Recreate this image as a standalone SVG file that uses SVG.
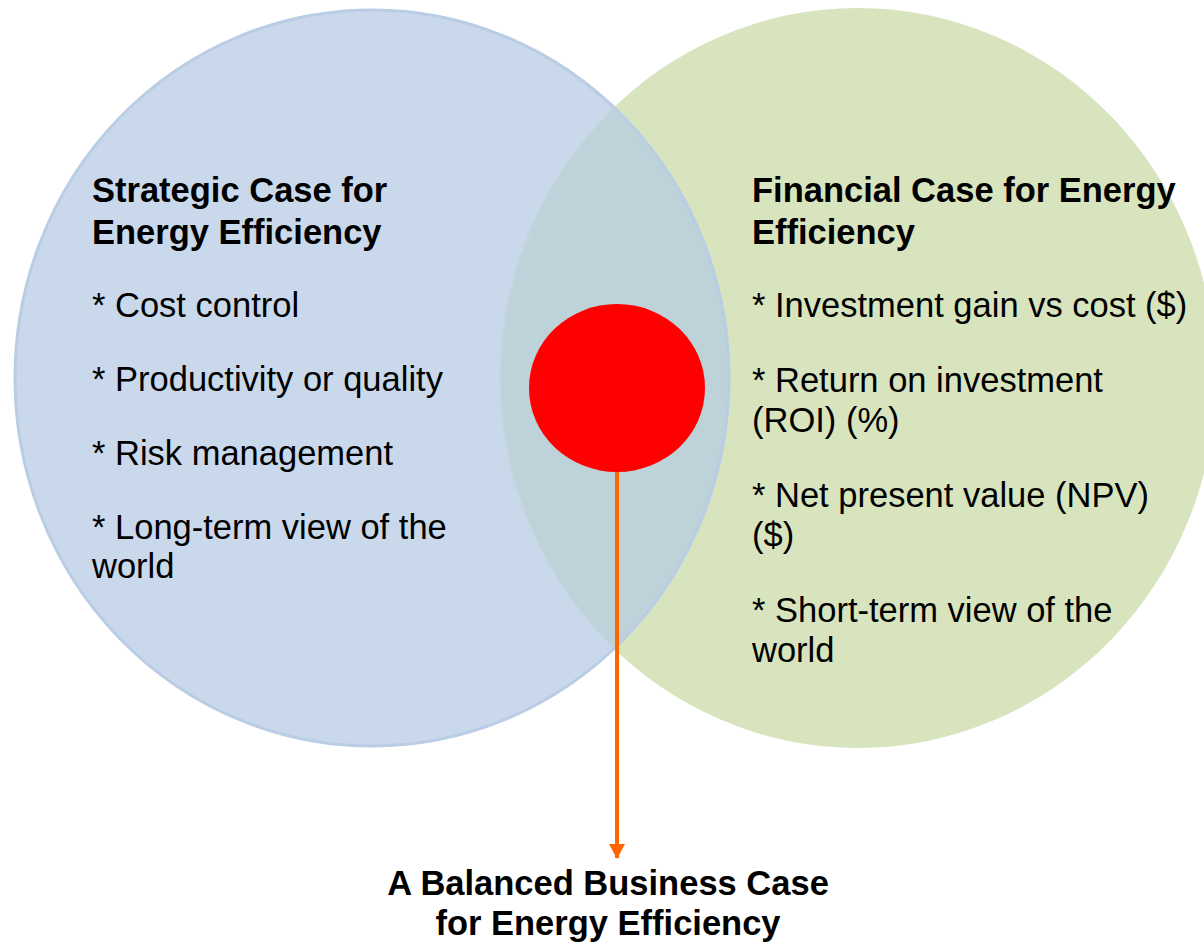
<svg xmlns="http://www.w3.org/2000/svg" width="1204" height="943" viewBox="0 0 1204 943">
  <style>
    .title { font-family: "Liberation Sans", Arial, sans-serif; font-size: 34.5px; font-weight: bold; fill: #000; }
    .item { font-family: "Liberation Sans", Arial, sans-serif; font-size: 34.5px; fill: #000; }
    .result { font-family: "Liberation Sans", Arial, sans-serif; font-size: 34.5px; font-weight: bold; fill: #000; text-anchor: middle; }
  </style>
  <defs>
    <clipPath id="strategicClip">
      <ellipse cx="372" cy="378" rx="357" ry="368"/>
    </clipPath>
    <marker id="arrowHead" viewBox="0 0 15 16" refX="14" refY="8" markerWidth="15" markerHeight="16" markerUnits="userSpaceOnUse" orient="auto">
      <polygon points="0,0 15,8 0,16" fill="#ff6600"/>
    </marker>
  </defs>
  <rect width="1204" height="943" fill="#ffffff"/>

  <!-- Financial case circle -->
  <g id="financial-case">
    <ellipse cx="858" cy="378" rx="358" ry="370" fill="#d7e4bd"/>
  </g>

  <!-- Strategic case circle -->
  <g id="strategic-case">
    <ellipse cx="372" cy="378" rx="357" ry="368" fill="#c9d8ea"/>
  </g>

  <!-- Overlap of the two cases -->
  <g id="overlap" clip-path="url(#strategicClip)">
    <ellipse cx="858" cy="378" rx="358" ry="370" fill="#bed2da" stroke="#c6d7e2" stroke-width="2"/>
  </g>
  <ellipse cx="372" cy="378" rx="357" ry="368" fill="none" stroke="#b9cde5" stroke-width="3"/>

  <!-- Balanced case marker -->
  <g id="balanced-point">
    <ellipse cx="617" cy="388" rx="88" ry="84" fill="#ff0000"/>
  </g>

  <!-- Connectors -->
  <g id="connectors">
    <line x1="617" y1="472" x2="617" y2="858" stroke="#ff6600" stroke-width="4" marker-end="url(#arrowHead)"/>
  </g>

  <!-- Strategic case text -->
  <g id="strategic-text">
    <text class="title" x="92" y="202">Strategic Case for</text>
    <text class="title" x="92" y="244">Energy Efficiency</text>
    <text class="item" x="92" y="317">* Cost control</text>
    <text class="item" x="92" y="391">* Productivity or quality</text>
    <text class="item" x="92" y="465">* Risk management</text>
    <text class="item" x="92" y="539">* Long-term view of the</text>
    <text class="item" x="92" y="578">world</text>
  </g>

  <!-- Financial case text -->
  <g id="financial-text">
    <text class="title" x="752" y="202">Financial Case for Energy</text>
    <text class="title" x="752" y="244">Efficiency</text>
    <text class="item" x="752" y="317">* Investment gain vs cost ($)</text>
    <text class="item" x="752" y="392">* Return on investment</text>
    <text class="item" x="752" y="432">(ROI) (%)</text>
    <text class="item" x="752" y="507">* Net present value (NPV)</text>
    <text class="item" x="752" y="547">($)</text>
    <text class="item" x="752" y="622">* Short-term view of the</text>
    <text class="item" x="752" y="662">world</text>
  </g>

  <!-- Result label -->
  <g id="balanced-text">
    <text class="result" x="608" y="895">A Balanced Business Case</text>
    <text class="result" x="608" y="935">for Energy Efficiency</text>
  </g>
</svg>
